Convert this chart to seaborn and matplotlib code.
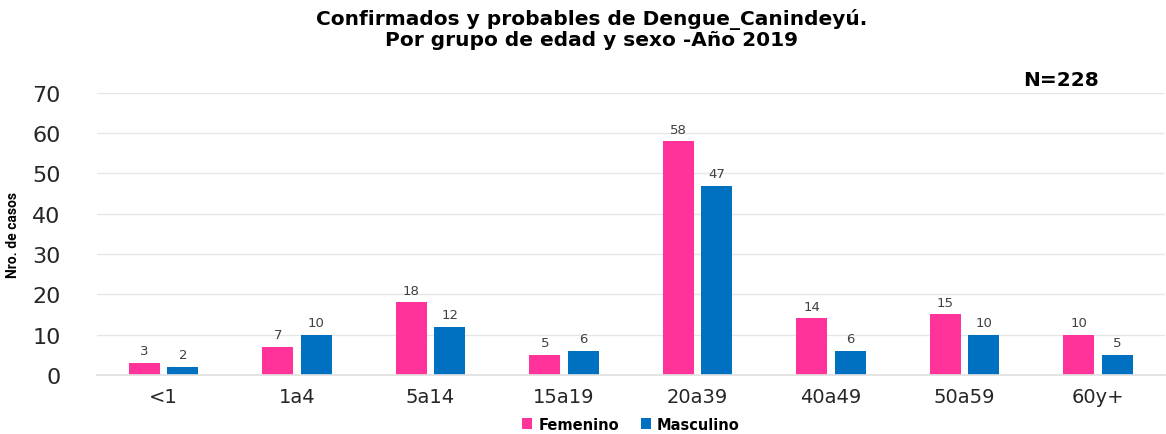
import matplotlib
matplotlib.use("Agg")
import matplotlib.pyplot as plt
import seaborn as sns
import pandas as pd

categories = ["<1", "1a4", "5a14", "15a19", "20a39", "40a49", "50a59", "60y+"]
femenino = [3, 7, 18, 5, 58, 14, 15, 10]
masculino = [2, 10, 12, 6, 47, 6, 10, 5]
series = ["Femenino", "Masculino"]
colors = {"Femenino": "#FF3399", "Masculino": "#0070C0"}

df = pd.DataFrame({
    "grupo": categories * 2,
    "sexo": [series[0]] * len(categories) + [series[1]] * len(categories),
    "casos": femenino + masculino,
})

sns.set_theme(style="white")
plt.rcParams["font.family"] = ["DejaVu Sans"]

fig = plt.figure(figsize=(11.66, 4.35), dpi=100)
ax = fig.add_axes([0.083, 0.136, 0.916, 0.648])

sns.barplot(data=df, x="grupo", y="casos", hue="sexo", order=categories,
            hue_order=series, palette=colors, width=0.58, gap=0.2, saturation=1,
            linewidth=0, edgecolor="none", ax=ax, legend=True)

for cont in ax.containers:
    ax.bar_label(cont, padding=4, fontsize=9.5, color="#404040")

ax.set_ylim(0, 70)
ax.set_xlim(-0.5, 7.5)
ax.set_yticks(range(0, 71, 10))
ax.tick_params(axis="y", labelsize=16, colors="#262626", length=0, pad=26)
ax.tick_params(axis="x", labelsize=14, colors="#262626", length=0, pad=9)
ax.yaxis.grid(True, color="#E6E6E6", linewidth=1)
ax.set_axisbelow(True)
for s in ["top", "right", "left"]:
    ax.spines[s].set_visible(False)
ax.spines["bottom"].set_color("#E0E0E0")
ax.set_xlabel("")
ax.set_ylabel("Nro. de casos", fontsize=10, fontweight="bold", color="black",
              family=["Roboto", "DejaVu Sans"])
ax.yaxis.set_label_coords(-0.072, 0.5)

leg = ax.legend(loc="center", bbox_to_anchor=(0.5, -0.175), ncol=2, frameon=False,
                handlelength=0.7, handleheight=0.7, handletextpad=0.4, columnspacing=1.5,
                prop={"weight": "bold", "size": 10.5})
for t in leg.get_texts():
    t.set_color("black")

fig.text(0.507, 0.98, "Confirmados y probables de Dengue_Canindeyú.\nPor grupo de edad y sexo -Año 2019",
         ha="center", va="top", fontsize=14.5, fontweight="bold", linespacing=1.12, color="black")
fig.text(0.91, 0.815, "N=228", ha="center", va="center", fontsize=14.5, fontweight="bold",
         color="black")

fig.savefig("out.png", dpi=100)
